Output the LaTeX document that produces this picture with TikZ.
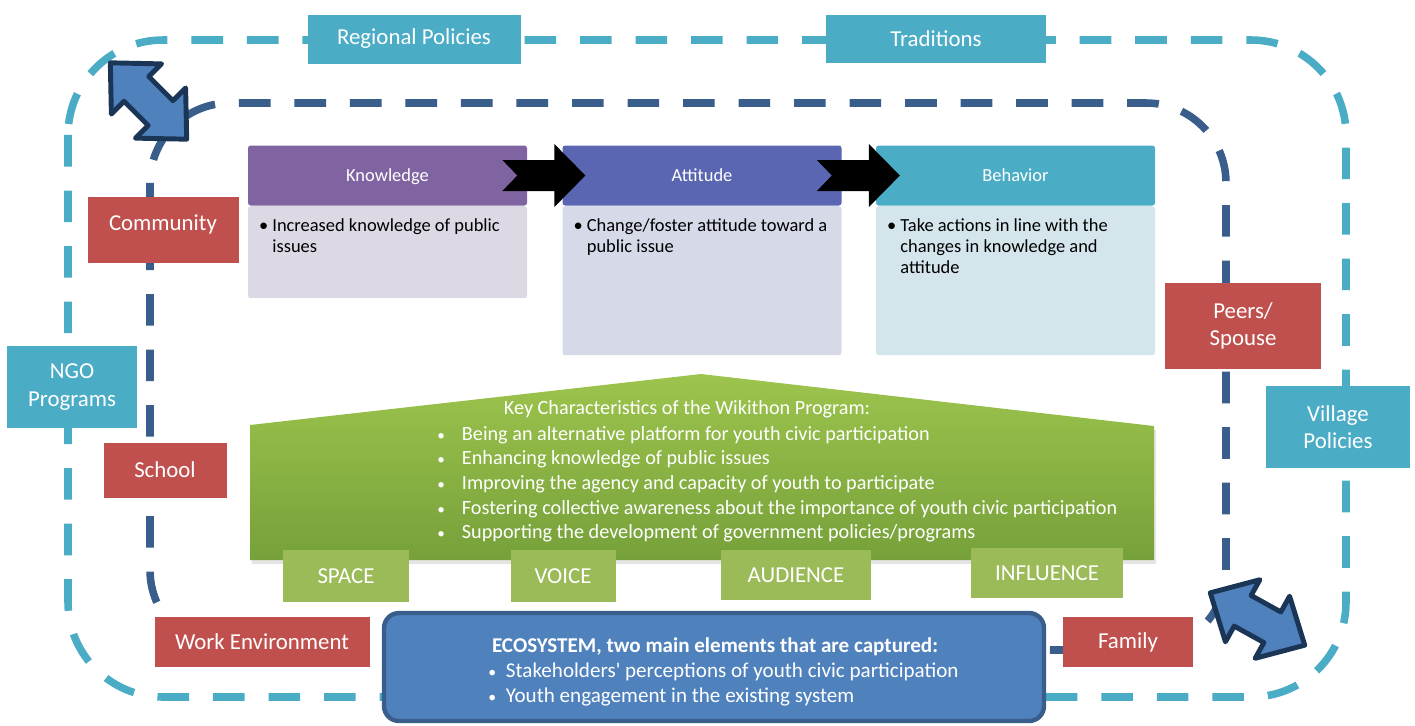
\documentclass[tikz,border=0pt]{standalone}
\usepackage{fontspec}
\setmainfont{Carlito}
\usetikzlibrary{calc}
\newlength\pxu
\setlength\pxu{0.02cm}
\newcommand\smbul[1]{\makebox[#1][l]{\scalebox{0.75}{\textbullet}}}
\newcommand\lowtxt[1]{\raisebox{-3.6pt}[0pt][0pt]{#1}}
\definecolor{cteal}{HTML}{4BACC6}
\definecolor{cred}{HTML}{C0504D}
\definecolor{cgreen}{HTML}{9BBB59}
\definecolor{cring}{HTML}{3A5E8C}
\definecolor{carrow}{HTML}{4F81BD}
\definecolor{carrowline}{HTML}{1B3556}
\definecolor{knowhd}{HTML}{8064A2}
\definecolor{knowbd}{HTML}{DCD9E4}
\definecolor{atthd}{HTML}{5A66B1}
\definecolor{attbd}{HTML}{D5D9E8}
\definecolor{behbd}{HTML}{D4E6EC}
\definecolor{housetop}{HTML}{9DC44D}
\definecolor{housebot}{HTML}{76A13A}

\begin{document}
\begin{tikzpicture}[x=0.02cm, y=-0.02cm,
	box/.style={text=white, align=center, inner sep=0pt, font=\fontsize{13}{15.6}\selectfont},
	tealbox/.style={box, fill=cteal},
	redbox/.style={box, fill=cred},
	grnbox/.style={box, fill=cgreen},
	ring/.style={line width=4.3pt, dash pattern=on 18pt off 13.6pt},
	head/.style={text=white, minimum width=279\pxu, minimum height=60\pxu, inner sep=0pt, rounded corners=1.5pt, font=\fontsize{10.5}{12.6}\selectfont},
	body/.style={minimum width=279\pxu, anchor=north, inner sep=0pt, rounded corners=1.5pt},
	note/.style={anchor=north west, align=left, inner sep=0pt, font=\fontsize{10.5}{12}\selectfont},
	dblarrow/.style={fill=carrow, draw=carrowline, line width=2.8pt, line join=round},
	chevron/.style={fill=black}]
	\useasboundingbox (0,0) rectangle (1415,725);
	% the two rings of the ecosystem
	\draw [ring, draw=cteal, rounded corners=1.9cm] (68,40) rectangle (1346,697);
	\draw [ring, draw=cring, rounded corners=1.6cm] (150,103) rectangle (1226,650);
	\draw [dblarrow, shift={(148.5,101)}, rotate=-45] (-54,0) -- (-17,35.5) -- (-17,17.5) -- (17,17.5) -- (17,35.5) -- (54,0) -- (17,-35.5) -- (17,-17.5) -- (-17,-17.5) -- (-17,-35.5) -- cycle;
	\draw [dblarrow, shift={(1257.5,619)}, rotate=-29] (-54,0) -- (-17,35.5) -- (-17,17.5) -- (17,17.5) -- (17,35.5) -- (54,0) -- (17,-35.5) -- (17,-17.5) -- (-17,-17.5) -- (-17,-35.5) -- cycle;
	% outer ring
	\node [tealbox, minimum width=213\pxu, minimum height=49\pxu] (regional) at (414,39) {Regional Policies};
	\node [tealbox, minimum width=220\pxu, minimum height=48\pxu] (traditions) at (936,39) {Traditions};
	\node [tealbox, minimum width=130\pxu, minimum height=82\pxu] (ngo) at (72,387) {NGO\\Programs};
	\node [tealbox, minimum width=144\pxu, minimum height=82\pxu] (village) at (1338,427) {Village\\Policies};
	% inner ring
	\node [redbox, minimum width=151\pxu, minimum height=66\pxu] (community) at (163,230) {\raisebox{8pt}{Community}};
	\node [redbox, minimum width=156\pxu, minimum height=86\pxu] (peers) at (1243,326) {Peers/\\Spouse};
	\node [redbox, minimum width=123\pxu, minimum height=55\pxu] (school) at (165,470) {School};
	\node [redbox, minimum width=215\pxu, minimum height=50\pxu] (workenv) at (262,642) {Work Environment};
	\node [redbox, minimum width=130\pxu, minimum height=50\pxu] (family) at (1128,642) {Family};
	% knowledge, attitude, behavior
	\node [head, fill=knowhd] (knowhead) at (387.5,175.5) {\lowtxt{Knowledge}};
	\node [head, fill=atthd] (atthead) at (702,175.5) {\lowtxt{Attitude}};
	\node [head, fill=cteal] (behhead) at (1015.5,175.5) {\lowtxt{Behavior}};
	\node [body, fill=knowbd, minimum height=92\pxu] (knowbody) at (knowhead.south) {};
	\node [body, fill=attbd, minimum height=149\pxu] (attbody) at (atthead.south) {};
	\node [body, fill=behbd, minimum height=149\pxu] (behbody) at (behhead.south) {};
	\node [note] (knownote) at ([xshift=11\pxu, yshift=-12\pxu]knowbody.north west) {\textbullet\ Increased knowledge of public\\\hphantom{\textbullet\ }issues};
	\node [note] (attnote) at ([xshift=11\pxu, yshift=-12\pxu]attbody.north west) {\textbullet\ Change/foster attitude toward a\\\hphantom{\textbullet\ }public issue};
	\node [note] (behnote) at ([xshift=11\pxu, yshift=-12\pxu]behbody.north west) {\textbullet\ Take actions in line with the\\\hphantom{\textbullet\ }changes in knowledge and\\\hphantom{\textbullet\ }attitude};
	\fill [chevron] ($(knowhead.east)+(-25,-15.5)$) -- ++(52,0) -- ++(0,-16) -- ++(31,31.5) -- ++(-31,31.5) -- ++(0,-16) -- ++(-52,0) -- ++(15,-15.5) -- cycle;
	\fill [chevron] ($(atthead.east)+(-25,-15.5)$) -- ++(52,0) -- ++(0,-16) -- ++(31,31.5) -- ++(-31,31.5) -- ++(0,-16) -- ++(-52,0) -- ++(15,-15.5) -- cycle;
	% key characteristics
	\fill [black!10] (252,429) -- (703,378) -- (1156,430) -- (1156,564) -- (252,564) -- cycle;
	\shade [top color=housetop, bottom color=housebot] (250,425) -- (701,374) -- (1154,426) -- (1154,560) -- (250,560) -- cycle;
	\node [text=white, inner sep=0pt, font=\fontsize{11.5}{14}\selectfont] (kctitle) at (687,409) {Key Characteristics of the Wikithon Program:};
	\node [text=white, anchor=north west, align=left, inner sep=0pt, font=\fontsize{11.5}{14}\selectfont] (kclist) at (437,426) {\smbul{14pt}Being an alternative platform for youth civic participation\\
		\smbul{14pt}Enhancing knowledge of public issues\\
		\smbul{14pt}Improving the agency and capacity of youth to participate\\
		\smbul{14pt}Fostering collective awareness about the importance of youth civic participation\\
		\smbul{14pt}Supporting the development of government policies/programs};
	\node [grnbox, minimum width=126\pxu, minimum height=52\pxu] (space) at (346,576) {SPACE};
	\node [grnbox, minimum width=105\pxu, minimum height=52\pxu] (voice) at (563,576) {VOICE};
	\node [grnbox, minimum width=150\pxu, minimum height=50\pxu] (audience) at (796,575) {AUDIENCE};
	\node [grnbox, minimum width=152\pxu, minimum height=50\pxu] (influence) at (1047,573) {INFLUENCE};
	% ecosystem
	\node [fill=carrow, draw=cring, line width=2.5pt, rounded corners=0.3cm, minimum width=660\pxu, minimum height=108\pxu] (eco) at (714,667) {};
	\node [text=white, inner sep=0pt, font=\fontsize{12}{14.7}\bfseries] (ecotitle) at (715,647) {ECOSYSTEM, two main elements that are captured:};
	\node [text=white, anchor=north west, align=left, inner sep=0pt, font=\fontsize{12}{14.7}\selectfont] (ecolist) at (488,662) {\smbul{10pt}Stakeholders\textquotesingle\ perceptions of youth civic participation\\
		\smbul{10pt}Youth engagement in the existing system};
\end{tikzpicture}
\end{document}
